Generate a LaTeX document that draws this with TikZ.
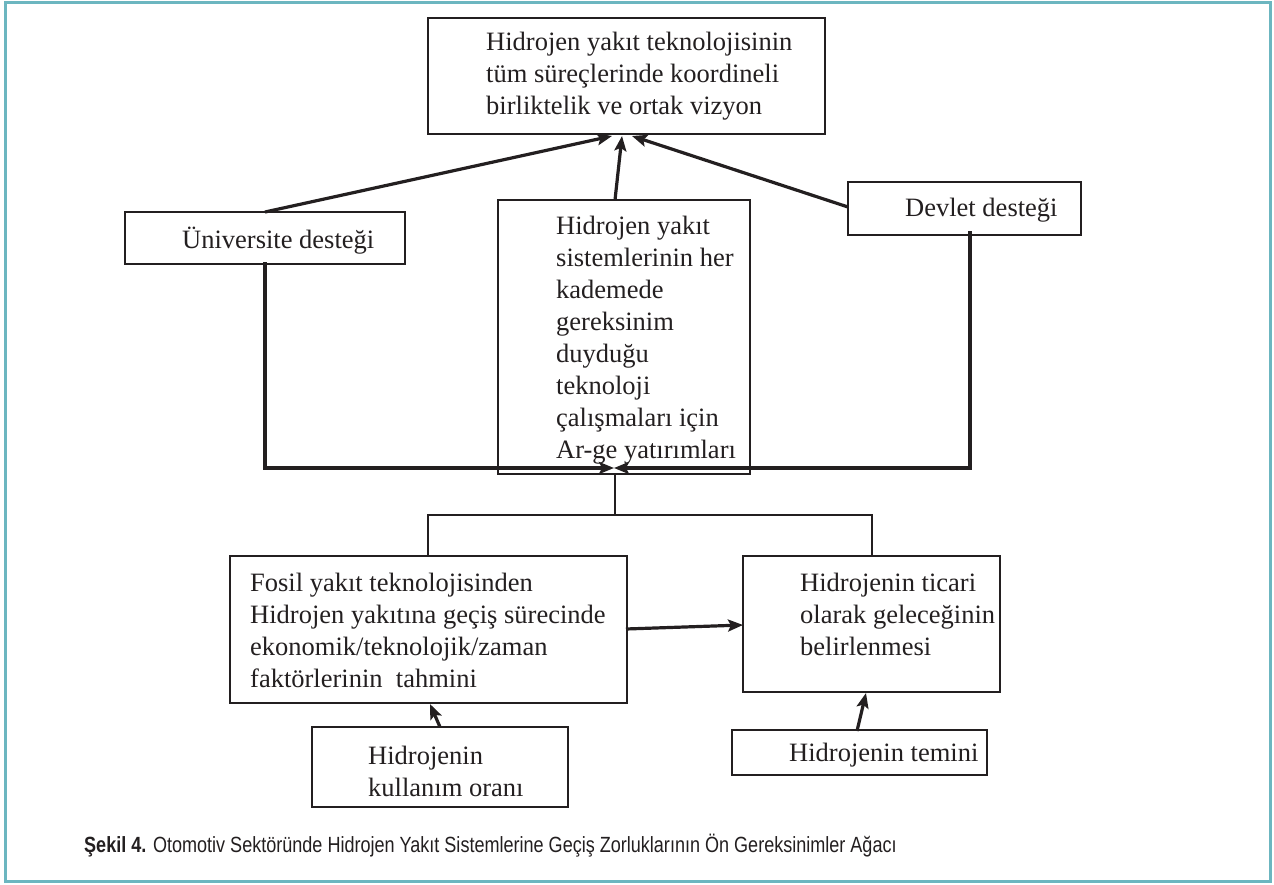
\documentclass[tikz,border=0pt]{standalone}
\usepackage{fontspec}
\setmainfont{Liberation Serif}
\newfontfamily\capfont[FakeStretch=0.82]{Liberation Sans}
\usetikzlibrary{arrows.meta}
\definecolor{ink}{HTML}{231F20}
\definecolor{frameteal}{HTML}{6CB6C0}
\tikzset{
  x=1pt, y=-1pt,
  box/.style={draw=ink, line width=2pt, inner sep=0pt, fill=white},
  txt/.style={anchor=west, align=left, inner sep=0pt, text=ink,
    font=\fontsize{26.5}{32}\selectfont},
  arr/.style={draw=ink, line width=3.2pt,
    -{Stealth[length=15pt, width=12pt, inset=3pt]}},
  thin/.style={draw=ink, line width=2pt},
}
\begin{document}
\begin{tikzpicture}
\useasboundingbox (0,0) rectangle (1274,885);
% outer frame
\draw[frameteal, line width=3.2pt] (5.6,2.6) rectangle (1270.6,881.6);

% boxes
\node[box, minimum width=397, minimum height=116] (vision) at (626.5,76) {};
\node[box, minimum width=280, minimum height=52] (uni) at (265,238) {};
\node[box, minimum width=252, minimum height=274] (rd) at (624,337) {};
\node[box, minimum width=233, minimum height=53] (gov) at (964.5,208.5) {};
\node[box, minimum width=397, minimum height=147] (fosil) at (428.5,629.5) {};
\node[box, minimum width=257, minimum height=136] (ticari) at (871.5,624) {};
\node[box, minimum width=256, minimum height=80] (use) at (440,767) {};
\node[box, minimum width=255, minimum height=45] (supply) at (859.5,752.5) {};

% texts
\node[txt] (tvision) at (486,76) {Hidrojen yakıt teknolojisinin\\tüm süreçlerinde koordineli\\birliktelik ve ortak vizyon};
\node[txt] (tuni) at (182,241) {Üniversite desteği};
\node[txt] (trd) at (556,340) {Hidrojen yakıt\\sistemlerinin her\\kademede\\gereksinim\\duyduğu\\teknoloji\\çalışmaları için\\Ar-ge yatırımları};
\node[txt] (tgov) at (905,210) {Devlet desteği};
\node[txt] (tfosil) at (250,630) {Fosil yakıt teknolojisinden\\Hidrojen yakıtına geçiş sürecinde\\ekonomik/teknolojik/zaman\\faktörlerinin\ \ tahmini};
\node[txt] (tticari) at (800,614) {Hidrojenin ticari\\olarak geleceğinin\\belirlenmesi};
\node[txt] (tuse) at (368,771) {Hidrojenin\\kullanım oranı};
\node[txt] (tsupply) at (789,755) {Hidrojenin temini};

% connection points
\coordinate (meet) at (614,468);
\coordinate (split) at (615,515);

% links into the vision box
\draw[arr] (265,212) -- (612,136);
\draw[arr] (615,200) -- (622,136);
\draw[arr] (848,207) -- (632,136);

% support lines into the R&D investments
\draw[arr, line cap=rect] (265,264) -- (265,468) -- (meet);
\draw[arr, line cap=rect] (970,233) -- (970,468) -- (meet);

% bracket from the R&D box down to the two lower boxes
\draw[thin] (615,474) -- (split);
\draw[thin] (428,556) -- (428,515) -- (872,515) -- (872,556);

% lower arrows
\draw[arr] (626,629) -- (743,625);
\draw[arr] (440,727) -- (430,704);
\draw[arr] (857,731) -- (866,693);

% caption
\node[anchor=west, inner sep=0pt, text=ink, font=\capfont\fontsize{22}{24}\selectfont] (cap) at (84,846)
  {\textbf{Şekil 4.} Otomotiv Sektöründe Hidrojen Yakıt Sistemlerine Geçiş Zorluklarının Ön Gereksinimler Ağacı};
\end{tikzpicture}
\end{document}
